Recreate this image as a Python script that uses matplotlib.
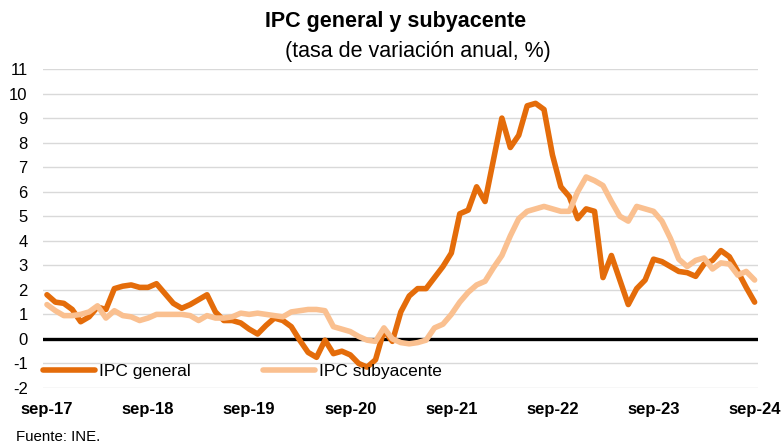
import matplotlib
matplotlib.use("Agg")
import matplotlib.pyplot as plt
import numpy as np

plt.rcParams['font.family'] = ['Liberation Sans', 'DejaVu Sans']

# Monthly data, sep-2017 .. sep-2024
ipc_general = [1.8, 1.5, 1.45, 1.2, 0.7, 0.9, 1.3, 1.2, 2.05, 2.15,
               2.2, 2.1, 2.1, 2.25, 1.85, 1.45, 1.25, 1.4, 1.6, 1.8,
               1.1, 0.75, 0.75, 0.65, 0.4, 0.2, 0.55, 0.85, 0.75, 0.5,
               -0.05, -0.55, -0.75, -0.05, -0.6, -0.5, -0.65, -1.0, -1.15, -0.85,
               0.35, -0.1, 1.1, 1.75, 2.05, 2.05, 2.5, 2.95, 3.5, 5.1,
               5.25, 6.2, 5.6, 7.3, 9.0, 7.8, 8.3, 9.5, 9.6, 9.35,
               7.5, 6.2, 5.8, 4.9, 5.3, 5.2, 2.5, 3.4, 2.4, 1.4,
               2.05, 2.4, 3.25, 3.15, 2.95, 2.75, 2.7, 2.55, 3.05, 3.2,
               3.6, 3.35, 2.75, 2.1, 1.5]
ipc_subyacente = [1.4, 1.15, 0.95, 0.95, 1.0, 1.1, 1.35, 0.85, 1.15, 0.95,
                  0.9, 0.75, 0.85, 1.0, 1.0, 1.0, 1.0, 0.95, 0.75, 0.95,
                  0.85, 0.85, 0.9, 1.05, 1.0, 1.05, 1.0, 0.95, 0.9, 1.1,
                  1.15, 1.2, 1.2, 1.15, 0.5, 0.4, 0.3, 0.1, -0.05, -0.1,
                  0.45, 0.0, -0.15, -0.2, -0.15, -0.05, 0.45, 0.6, 1.0, 1.5,
                  1.9, 2.2, 2.35, 2.9, 3.4, 4.2, 4.9, 5.2, 5.3, 5.4,
                  5.3, 5.2, 5.2, 6.0, 6.6, 6.45, 6.25, 5.6, 5.0, 4.8,
                  5.4, 5.3, 5.2, 4.8, 4.1, 3.25, 2.95, 3.2, 3.3, 2.85,
                  3.1, 3.05, 2.6, 2.75, 2.4]
x_tick_labels = ['sep-17', 'sep-18', 'sep-19', 'sep-20', 'sep-21', 'sep-22', 'sep-23', 'sep-24']
y_ticks = list(range(-2, 12))

x = np.arange(len(ipc_general))

fig = plt.figure(figsize=(7.84, 4.45), dpi=100)
ax = fig.add_axes([43/784, 1 - 388/445, (758 - 43)/784, (388 - 69)/445])

dark = '#E46C0A'
light = '#FAC090'
lw = 4.0

for yv in y_ticks:
    ax.axhline(yv, color='#D9D9D9', lw=1.0, zorder=1)
ax.axhline(0, color='black', lw=2.4, zorder=2)

l1, = ax.plot(x, ipc_general, color=dark, lw=lw, solid_joinstyle='round',
              solid_capstyle='round', zorder=3, label='IPC general')
l2, = ax.plot(x, ipc_subyacente, color=light, lw=lw, solid_joinstyle='round',
              solid_capstyle='round', zorder=4, label='IPC subyacente')

ax.set_xlim(-0.47, 84.4)
ax.set_ylim(-2, 11)
ax.set_yticks(y_ticks)
ax.set_yticklabels([str(v) for v in y_ticks], fontsize=12)
ax.set_xticks(np.arange(0, 85, 12))
ax.set_xticklabels(x_tick_labels, fontsize=12, fontweight='bold')
ax.tick_params(axis='both', length=0)
ax.tick_params(axis='y', pad=11)
ax.tick_params(axis='x', pad=10)
for s in ax.spines.values():
    s.set_visible(False)

leg = ax.legend(handles=[l1, l2], loc='center left', bbox_to_anchor=(0.0, (-1.32 + 2) / 13),
                ncol=2, frameon=False, fontsize=12.5, handlelength=3.0,
                handletextpad=0.2, columnspacing=4.2, borderpad=0, borderaxespad=0)
for h in leg.legend_handles:
    h.set_linewidth(lw)

fig.text(396/784, 1 - 22/445, 'IPC general y subyacente', ha='center', va='center',
         fontsize=15.5, fontweight='bold')
fig.text(418/784, 1 - 52/445, '(tasa de variación anual, %)', ha='center', va='center',
         fontsize=15.5)
fig.text(16/784, 1 - 437/445, 'Fuente: INE.', ha='left', va='center', fontsize=10.8)

fig.savefig('out.png', dpi=100)
